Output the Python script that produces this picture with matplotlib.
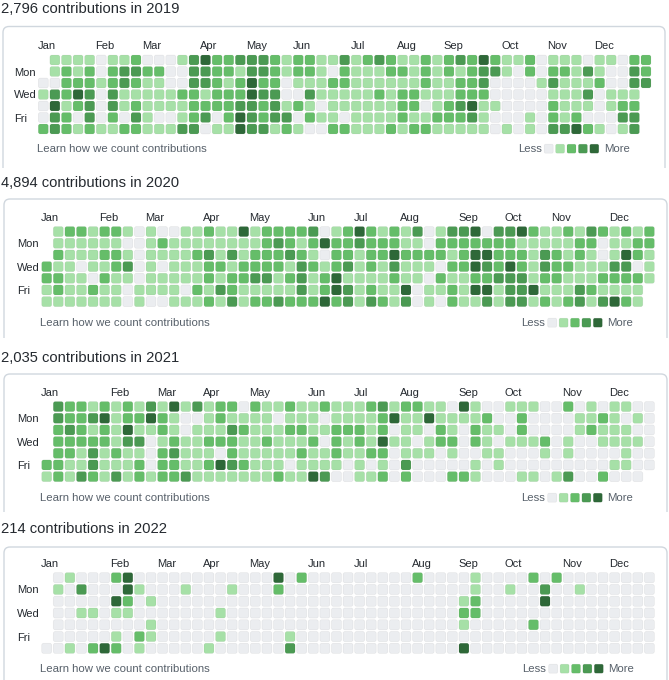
#!/usr/bin/env python3

import datetime
import matplotlib
matplotlib.use("Agg")
import matplotlib.pyplot as plt
from matplotlib.patches import FancyBboxPatch, Rectangle

plt.rcParams["font.family"] = ["Liberation Sans", "DejaVu Sans"]

YEARS = [2019, 2020, 2021, 2022]
TOTALS = [2796, 4894, 2035, 214]
MONTHS = ["Jan", "Feb", "Mar", "Apr", "May", "Jun", "Jul", "Aug", "Sep", "Oct", "Nov", "Dec"]
WEEKDAY_ROWS = [1, 3, 5]
WEEKDAY_NAMES = ["Mon", "Wed", "Fri"]
LEVEL_COLORS = ["#ebedf0", "#a6e0a7", "#65bd69", "#4b9a53", "#2e6838"]

# one string per weekday row (Sun..Sat), one char per week column
# digit = contribution level 0-4, '-' = day outside the year
LEVELS_2019 = [
	"-1111011200013422333212211312321121232421120111011022",
	"-1212023322003322133212210211122121212331020221310032",
	"00222123211003321242201112211111121122300001311120033",
	"1324303111112212224330031111121221112220000011130111-",
	"0412303121111222233231210111111220123411000021110122-",
	"0320302031001230243233021101111211222310001021200033-",
	"2321211221113301143312100221112122111110101033421013-",
]
LEVELS_2020 = [
	"-1221221010011211412222301242121301334033421121321212",
	"-1111110012111111112321242232221102222222111112201122",
	"-2111221011112313122232102212242222124422213212101421",
	"21101123010111221222213212312131110224324213221113301",
	"22110211011111212233123124111121102112233312211122221",
	"1211211011110213211111312431211401121441334111321111-",
	"1111111010011121312232224231321301021131331212313421-",
]
LEVELS_2021 = [
	"-3221212131413122021121121112312211041001110020101100",
	"-3223412242100121111011101111241141111200200001121010",
	"-2321214112101113211122112221201102102110200001211100",
	"-2222213301211222112111202121411012202101112010011110",
	"-2213121102311102111112112112201110100110001010000100",
	"22113111202211243211101111010103000001010000000001100",
	"1213213121223111111121143001120200022100011013002000-",
]
LEVELS_2022 = [
	"-0100024" "000000000000" "402" "000000000" "2" "0000" "1" "0000" "2" "0" "2" "00000000",
	"-1030004" "1000" "1000" "1000" "2" "0000000000000000" "1" "00" "1" "00" "3" "00" "1" "000000",
	"-00000420" "1" "00000000000000000000000000" "12" "00000" "4" "000000000",
	"-0011011" "0000000" "1" "00000000000000000000" "22" "000000000000000",
	"-" "00000000" "1" "00000000000000000000000000" "1" "00000" "2" "0000000000",
	"-000001021" "00000" "1" "00000" "1" "0000000000000000000000000000000",
	"001024201" "00000" "1" "000000" "3" "00000000000000" "4" "0000000000000000",
]
ALL_LEVELS = [LEVELS_2019, LEVELS_2020, LEVELS_2021, LEVELS_2022]

W, H = 669, 680
TEXT = "#24292f"
MUTED = "#57606a"
BORDER = "#d0d7de"

# pixel layout of every panel (first cell centre, steps, box, text baselines)
PANELS = [
	dict(x0=43.3, y0=60.0, sx=11.59, sy=11.5, box=(3, 26.5, 662, 141), title_y=13.3, foot_y=151.7, learn_x=37, less_x=518),
	dict(x0=46.7, y0=231.6, sx=11.59, sy=11.67, box=(4, 199, 663, 139), title_y=186.7, foot_y=325.7, learn_x=40, less_x=521.5),
	dict(x0=46.7, y0=406.6, sx=11.59, sy=11.67, box=(4, 374, 663, 138), title_y=361.7, foot_y=500.7, learn_x=40, less_x=521.5),
	dict(x0=46.7, y0=577.7, sx=11.59, sy=11.77, box=(4, 547, 663, 140), title_y=532.7, foot_y=671.7, learn_x=40.5, less_x=522.5),
]


def month_columns(year):
	jan1 = datetime.date(year, 1, 1)
	offset = (jan1.weekday() + 1) % 7
	cols = [0]
	for m in range(2, 13):
		d = datetime.date(year, m, 1)
		while d.weekday() != 6:
			d += datetime.timedelta(days=1)
		cols.append((d.timetuple().tm_yday - 1 + offset) // 7)
	return cols


def draw_cell(ax, c, r, color, size, rs):
	half = size / 2
	ax.add_patch(FancyBboxPatch((c - half, r - half), size, size,
		boxstyle=f"round,pad=0,rounding_size={rs}", fc=color, ec=(0, 0, 0, 0.06), lw=0.5))


def main():
	fig = plt.figure(figsize=(W / 100, H / 100), dpi=100)
	fig.patch.set_facecolor("white")

	bg = fig.add_axes([0, 0, 1, 1])
	bg.set_xlim(0, W)
	bg.set_ylim(H, 0)
	bg.axis("off")

	for year, total, levels, p in zip(YEARS, TOTALS, ALL_LEVELS, PANELS):
		for row in levels:
			if len(row) != 53:
				raise ValueError(f"{year}: row has {len(row)} columns")

		# title and box
		bg.text(1, p["title_y"], f"{total:,} contributions in {year}", fontsize=10.6, color=TEXT, va="baseline", ha="left")
		bx, by, bw, bh = p["box"]
		box = FancyBboxPatch((bx, by), bw, bh + 20, boxstyle="round,pad=0,rounding_size=6", fc="none", ec=BORDER, lw=1)
		bg.add_patch(box)
		box.set_clip_path(Rectangle((bx - 3, by - 3), bw + 6, bh + 3, transform=bg.transData))

		# calendar grid
		sx, sy = p["sx"], p["sy"]
		left = (p["x0"] - 0.5 * sx) / W
		top = p["y0"] - 0.5 * sy
		ax = fig.add_axes([left, 1 - (top + 7 * sy) / H, 53 * sx / W, 7 * sy / H])
		ax.set_xlim(-0.5, 52.5)
		ax.set_ylim(6.5, -0.5)
		ax.patch.set_alpha(0)
		for s in ax.spines.values():
			s.set_visible(False)
		for r, row in enumerate(levels):
			for c, ch in enumerate(row):
				if ch == "-":
					continue
				draw_cell(ax, c, r, LEVEL_COLORS[int(ch)], 0.86, 0.17)

		ax.xaxis.tick_top()
		ax.set_xticks([c - 0.5 for c in month_columns(year)])
		ax.set_xticklabels(MONTHS, ha="left", fontsize=8, color=TEXT)
		ax.tick_params(axis="x", length=0, pad=2)
		ax.set_yticks(WEEKDAY_ROWS)
		ax.set_yticklabels(WEEKDAY_NAMES, ha="left", fontsize=8, color=TEXT)
		ax.tick_params(axis="y", length=0, pad=17)

		# footer
		fy = p["foot_y"]
		bg.text(p["learn_x"], fy, "Learn how we count contributions", fontsize=8.2, color=MUTED, va="baseline")
		lx = p["less_x"]
		bg.text(lx, fy, "Less", fontsize=8.2, color=MUTED, va="baseline")
		for i, col in enumerate(LEVEL_COLORS):
			cx = lx + 30.7 + 11.4 * i
			bg.add_patch(FancyBboxPatch((cx - 4.5, fy - 7.5), 9, 9, boxstyle="round,pad=0,rounding_size=1.5",
				fc=col, ec=(0, 0, 0, 0.06), lw=0.5))
		bg.text(lx + 86, fy, "More", fontsize=8.2, color=MUTED, va="baseline")

	fig.savefig("out.png", dpi=100, facecolor="white")


if __name__ == "__main__":
	main()
